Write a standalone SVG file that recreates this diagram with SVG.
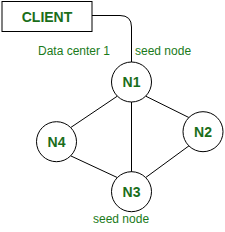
<svg xmlns="http://www.w3.org/2000/svg" width="225" height="232" viewBox="0 0 225 232">
<style>
.n{fill:#fff;stroke:#000;stroke-width:1}
.lb{font-family:"Liberation Sans",Arial,sans-serif;font-weight:bold;font-size:14px;fill:#1a6e1a;text-anchor:middle}
.t{font-family:"Liberation Sans",Arial,sans-serif;font-size:12px;fill:#1a7a1a}
.c{fill:none;stroke:#000;stroke-width:1}
</style>
<rect width="225" height="232" fill="#fff"/>
<g id="connectors">
<path class="c" d="M92 15.5 H120 Q131.5 15.5 131.5 27 V62"/>
<line class="c" x1="131.5" y1="102" x2="131.5" y2="172"/>
<line class="c" x1="117.4" y1="96.1" x2="70.6" y2="127.6"/>
<line class="c" x1="145.6" y1="96.1" x2="189" y2="117.6"/>
<line class="c" x1="70.6" y1="155.8" x2="117.4" y2="177.6"/>
<line class="c" x1="189" y1="145.8" x2="145.6" y2="177.6"/>
</g>
<g id="client">
<rect class="n" x="2" y="1.5" width="90" height="30"/>
<text class="lb" x="47" y="22">CLIENT</text>
</g>
<text class="t" x="38" y="55">Data center 1</text>
<text class="t" x="135" y="55">seed node</text>
<g id="N1">
<circle class="n" cx="131.5" cy="82" r="20"/>
<text class="lb" x="131.5" y="87">N1</text>
</g>
<g id="N4">
<circle class="n" cx="56.5" cy="141.7" r="20"/>
<text class="lb" x="56.5" y="146.7">N4</text>
</g>
<g id="N2">
<circle class="n" cx="203" cy="131.7" r="20"/>
<text class="lb" x="203" y="136.7">N2</text>
</g>
<g id="N3">
<circle class="n" cx="131.5" cy="191.7" r="20"/>
<text class="lb" x="131.5" y="196.7">N3</text>
</g>
<text class="t" x="93" y="223">seed node</text>
</svg>
